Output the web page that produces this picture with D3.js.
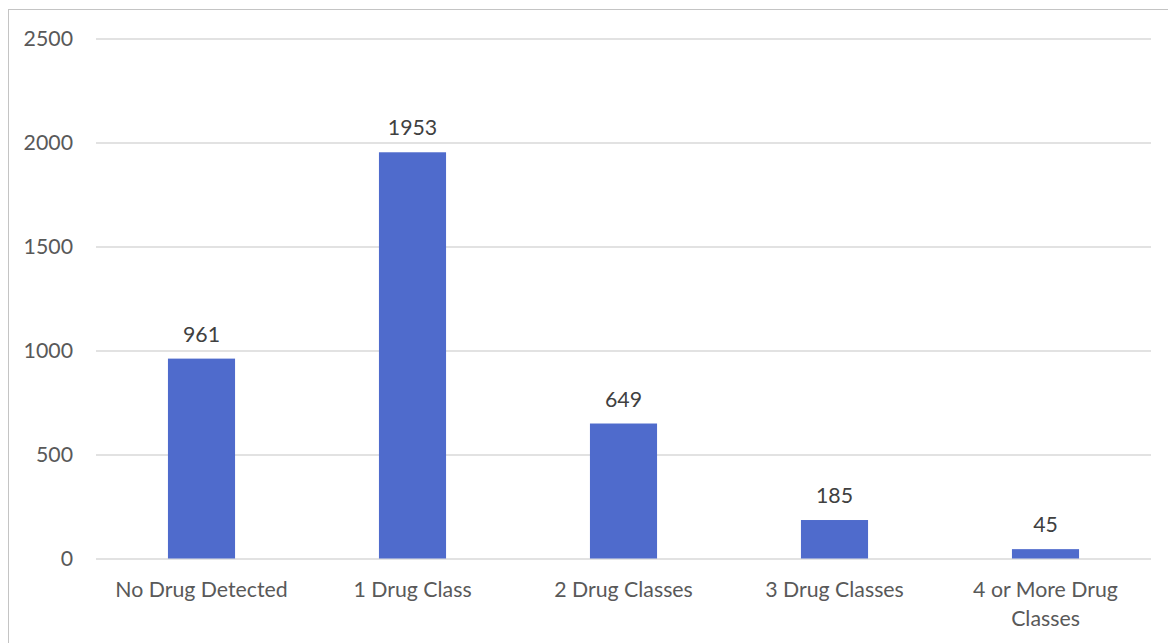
<!DOCTYPE html>
<html><head><meta charset="utf-8">
<script src="https://cdn.jsdelivr.net/npm/d3@7"></script>
<style>html,body{margin:0;padding:0;background:#fff;overflow:hidden}</style>
</head><body>
<svg id="chart" width="1168" height="643"></svg>
<script>
const categories = ["No Drug Detected", "1 Drug Class", "2 Drug Classes", "3 Drug Classes", "4 or More Drug Classes"];
const values = [961, 1953, 649, 185, 45];
const yTicks = [0, 500, 1000, 1500, 2000, 2500];

(function() {
const W = 1168, H = 643;
const svg = d3.select("#chart");
const font = "Lato, 'Open Sans', sans-serif";
const fs = 21.3;

// outer border
svg.append("rect").attr("x", 8.5).attr("y", 9.5).attr("width", W + 10).attr("height", H + 10)
  .attr("fill", "none").attr("stroke", "#c4c4c4").attr("stroke-width", 1);

const pl = 96, pr = 1151, pt = 38.5, pb = 558.5;
const x = d3.scaleBand().domain(categories).range([pl, pr]).paddingInner(0.682).paddingOuter(0.341);
const y = d3.scaleLinear().domain([0, 2500]).range([pb, pt]);

// gridlines + y labels
const yAxis = d3.axisLeft(y).tickValues(yTicks).tickSize(-(pr - pl)).tickPadding(23).tickFormat(d3.format("d"));
const gy = svg.append("g").attr("transform", `translate(${pl},0)`).call(yAxis);
gy.select(".domain").remove();
gy.selectAll(".tick line").attr("stroke", "#d9d9d9").attr("stroke-width", 1.3);
gy.selectAll(".tick text").attr("font-family", font).attr("font-size", fs).attr("fill", "#595959");

// bars
svg.append("g").selectAll("rect").data(values).join("rect")
  .attr("x", (d, i) => x(categories[i]))
  .attr("y", d => y(d))
  .attr("width", x.bandwidth())
  .attr("height", d => y(0) - y(d))
  .attr("fill", "#4f6bcc");

// value labels
svg.append("g").selectAll("text").data(values).join("text")
  .attr("x", (d, i) => x(categories[i]) + x.bandwidth() / 2)
  .attr("y", d => y(d) - 17)
  .attr("text-anchor", "middle")
  .attr("font-family", font).attr("font-size", fs).attr("fill", "#404040")
  .text(d => d);

// x axis labels
const xAxis = d3.axisBottom(x).tickSize(0).tickPadding(0);
const gx = svg.append("g").attr("transform", `translate(0,${pb})`).call(xAxis);
gx.select(".domain").remove();
gx.selectAll(".tick text").attr("font-family", font).attr("font-size", fs).attr("fill", "#595959")
  .attr("dy", null).attr("y", 38.5)
  .each(function(d) {
    const t = d3.select(this);
    const words = d.split(" ");
    t.text(null);
    let line = [], lineNo = 0;
    let tspan = t.append("tspan").attr("x", 0).attr("y", 38.5);
    const maxW = x.step() - 10;
    for (const w of words) {
      line.push(w);
      tspan.text(line.join(" "));
      if (tspan.node().getComputedTextLength() > maxW && line.length > 1) {
        line.pop();
        tspan.text(line.join(" "));
        line = [w];
        lineNo++;
        tspan = t.append("tspan").attr("x", 0).attr("y", 38.5 + lineNo * 29).text(w);
      }
    }
  });
})();
</script>
</body></html>
